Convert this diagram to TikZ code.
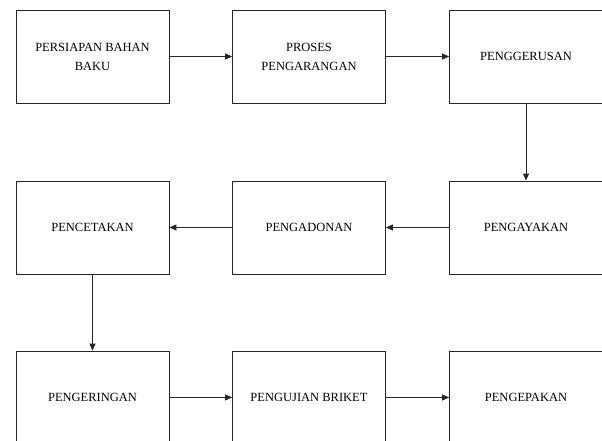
\documentclass[tikz,border=0pt]{standalone}
\usepackage{fontspec}
\setmainfont{Liberation Serif}
\usetikzlibrary{arrows.meta}
\tikzset{>={Triangle[length=7pt,width=6pt]}}
\tikzset{
	langkah/.style={draw=black!85, line width=0.8pt, minimum width=153pt, minimum height=93pt,
		align=center, inner sep=0pt, font=\fontsize{12.5}{19}\selectfont},
	alur/.style={->, draw=black!85, line width=0.8pt}
}

\begin{document}
\begin{tikzpicture}[x=1pt, y=-1pt]
	\useasboundingbox (0,0) rectangle (602,441);
	\clip (0,0) rectangle (602,441);

	% Baris atas
	\node[langkah](persiapan) at (92.5,56.5) {PERSIAPAN BAHAN\\BAKU};
	\node[langkah](proses) at (309,56.5) {PROSES\\PENGARANGAN};
	\node[langkah](penggerusan) at (526,56.5) {PENGGERUSAN};

	% Baris tengah
	\node[langkah](pencetakan) at (92.5,227.5) {PENCETAKAN};
	\node[langkah](pengadonan) at (309,227.5) {PENGADONAN};
	\node[langkah](pengayakan) at (526,227.5) {PENGAYAKAN};

	% Baris bawah
	\node[langkah](pengeringan) at (92.5,397.5) {PENGERINGAN};
	\node[langkah](pengujian) at (309,397.5) {PENGUJIAN BRIKET};
	\node[langkah](pengepakan) at (526,397.5) {PENGEPAKAN};

	%% Panah
	\draw[alur] (persiapan) -- (proses);
	\draw[alur] (proses) -- (penggerusan);
	\draw[alur] (penggerusan) -- (pengayakan);
	\draw[alur] (pengayakan) -- (pengadonan);
	\draw[alur] (pengadonan) -- (pencetakan);
	\draw[alur] (pencetakan) -- (pengeringan);
	\draw[alur] (pengeringan) -- (pengujian);
	\draw[alur] (pengujian) -- (pengepakan);
\end{tikzpicture}
\end{document}
